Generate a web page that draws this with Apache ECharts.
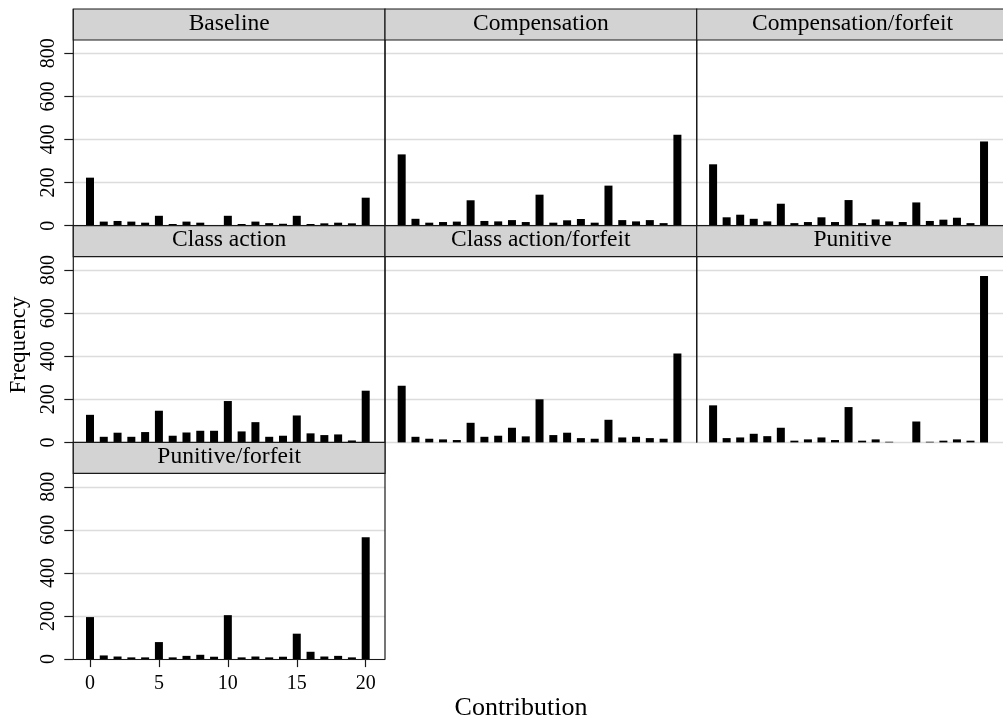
<!DOCTYPE html>
<html><head><meta charset="utf-8">
<script src="https://cdn.jsdelivr.net/npm/echarts@6/dist/echarts.min.js"></script>
<style>html,body{margin:0;padding:0;background:#fff}#c{width:1003px;height:726px}</style>
</head><body><div id="c"></div>
<script>
// ---- data ----
const contribution = [0,1,2,3,4,5,6,7,8,9,10,11,12,13,14,15,16,17,18,19,20];
const panelTitles = ['Baseline','Compensation','Compensation/forfeit','Class action','Class action/forfeit','Punitive','Punitive/forfeit'];
const baseline      = [223, 19, 22, 19, 14, 46,  8, 19, 14,  0, 46,  8, 19, 12,  9, 46,  8, 11, 14, 11, 130];
const compensation  = [331, 32, 14, 17, 19,118, 22, 20, 26, 17,144, 14, 25, 31, 14,186, 26, 20, 26, 12, 422];
const compForfeit   = [285, 39, 51, 32, 20,102, 12, 17, 39, 17,119, 12, 29, 20, 17,108, 22, 28, 37, 12, 391];
const classAction   = [128, 26, 45, 26, 48,147, 31, 46, 54, 54,192, 51, 94, 26, 31,125, 42, 34, 37,  9, 240];
const classForfeit  = [263, 26, 17, 14, 11, 91, 26, 31, 68, 28,200, 34, 45, 20, 17,105, 23, 26, 20, 17, 413];
const punitive      = [172, 20, 23, 40, 29, 68,  8, 14, 23, 11,164,  8, 14,  3,  0, 97,  3,  8, 14,  8, 772];
const punForfeit    = [195, 17, 12,  8,  8, 79,  8, 15, 20, 11,204,  8, 12,  8, 11,118, 34, 12, 15,  8, 566];
const yTicks = [0,200,400,600,800];
const xTicks = [0,5,10,15,20];
const xTitle = 'Contribution';
const yTitle = 'Frequency';

const panels = [baseline, compensation, compForfeit, classAction, classForfeit, punitive, punForfeit];

// ---- layout ----
const L = {left:73.3, colW:311.7, top:9, rowH:216.7, headH:31, plotH:185.7};
const FONT = "'Liberation Serif','Times New Roman',serif";
const DARK = '#1a1a1a';

const grids=[], xAxes=[], yAxes=[], series=[], graphics=[];
panels.forEach((vals,i)=>{
  const col=i%3, row=Math.floor(i/3);
  const gx=L.left+col*L.colW, gy=L.top+row*L.rowH;
  grids.push({left:gx, top:gy+L.headH, width:L.colW, height:L.plotH, containLabel:false});
  const bottomPanel = (i===6);
  xAxes.push({
    type:'value', gridIndex:i, min:-1.21, max:21.4,
    axisLine:{show:bottomPanel, onZero:false, lineStyle:{color:DARK,width:1.2}},
    axisTick:{show:bottomPanel, customValues:xTicks, length:8, lineStyle:{color:DARK,width:1.2}},
    axisLabel:{show:bottomPanel, customValues:xTicks, fontFamily:FONT, fontSize:20, color:'#000', margin:15},
    splitLine:{show:false}
  });
  const leftCol = (col===0);
  yAxes.push({
    type:'value', gridIndex:i, min:0, max:862, interval:200,
    axisLine:{show:false, onZero:false},
    axisTick:{show:leftCol, customValues:yTicks, length:9, lineStyle:{color:DARK,width:1.2}},
    axisLabel:{show:leftCol, customValues:yTicks, rotate:90, fontFamily:FONT, fontSize:20, color:'#000', margin:15},
    splitLine:{show:true, lineStyle:{color:'#dcdcdc', width:1.3}}
  });
  series.push({
    type:'bar', xAxisIndex:i, yAxisIndex:i, barWidth:8, silent:true,
    itemStyle:{color:'#000'},
    data: contribution.map((c,j)=>[c, vals[j]])
  });
  // panel borders (left/right)
  [gx, gx+L.colW].forEach(x=>{
    graphics.push({type:'line', z:90, shape:{x1:x,y1:gy,x2:x,y2:gy+L.headH+L.plotH}, style:{stroke:DARK, lineWidth:1.2}});
  });
  // header strip
  graphics.push({type:'rect', z:95, shape:{x:gx,y:gy,width:L.colW,height:L.headH},
    style:{fill:'#d3d3d3', stroke:DARK, lineWidth:1.2}});
  graphics.push({type:'text', z:96, x:gx+L.colW/2, y:gy+14.5,
    style:{text:panelTitles[i], fill:'#000', font:"23.5px "+FONT, textAlign:'center', textVerticalAlign:'middle'}});
});
// axis titles
graphics.push({type:'text', z:96, x:521, y:708.5,
  style:{text:xTitle, fill:'#000', font:"26px "+FONT, textAlign:'center', textVerticalAlign:'middle'}});
graphics.push({type:'text', z:96, x:19, y:345, rotation:Math.PI/2,
  style:{text:yTitle, fill:'#000', font:"23px "+FONT, textAlign:'center', textVerticalAlign:'middle'}});

const chart = echarts.init(document.getElementById('c'), null, {renderer:'canvas'});
chart.setOption({
  animation:false,
  backgroundColor:'#fff',
  grid:grids, xAxis:xAxes, yAxis:yAxes, series:series,
  graphic:{elements:graphics}
});
</script></body></html>
